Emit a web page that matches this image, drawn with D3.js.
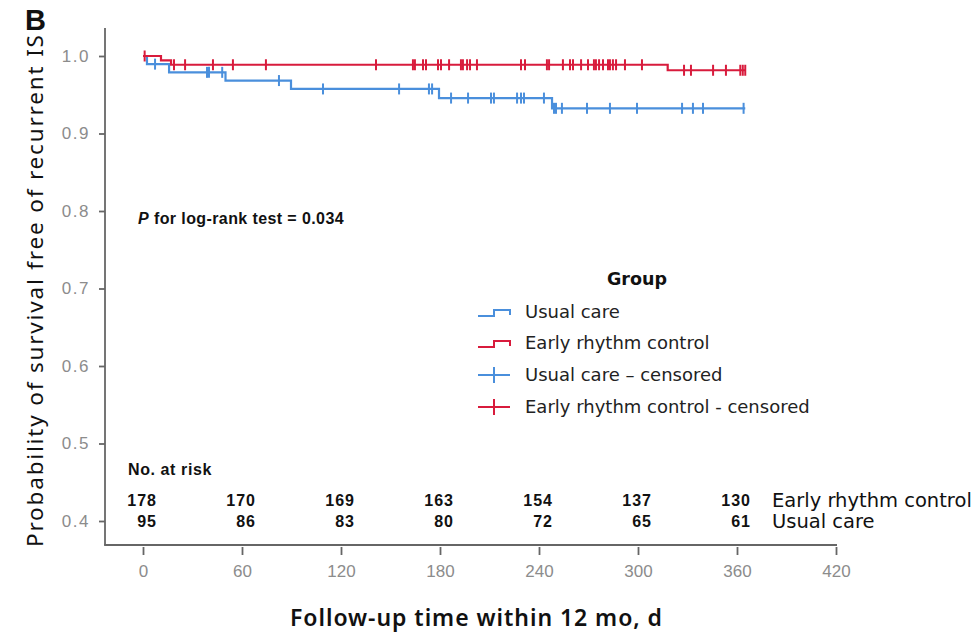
<!DOCTYPE html>
<html>
<head>
<meta charset="utf-8">
<script src="https://cdn.jsdelivr.net/npm/d3@7"></script>
<style>
  html, body { margin: 0; padding: 0; background: #fff; }
  svg { display: block; }
</style>
</head>
<body>
<svg id="chart" width="980" height="632"></svg>
<script>
// Kaplan–Meier estimates: step times (days) and survival after each step
const usualStepDays = [0, 2.4, 15.8, 50, 89.7, 179.4, 247.9];
const usualStepSurv = [1.0, 0.9895, 0.9789, 0.9683, 0.9575, 0.9457, 0.9325];
const earlyStepDays = [0, 10.9, 17, 318];
const earlyStepSurv = [1.0, 0.9944, 0.9887, 0.9816];
const followUpEnd = 365;

// Censored observations (days)
const usualCensored = [7.3, 38.8, 40, 48, 82.4, 109.1, 155.2, 173.3, 175.2, 186.7, 197,
  210.9, 212.7, 226.7, 229.1, 230.9, 243, 249.1, 250.3, 253.9, 269.1, 283, 299.4,
  326.7, 333.3, 339.4, 364];
const earlyCensored = [1, 18.8, 25.5, 42.4, 54.5, 74.5, 141.2, 163.6, 164.8, 169.7, 171.5,
  178.8, 180.6, 185.5, 192.7, 193.9, 196.4, 198.2, 202.4, 229.1, 231.5, 244.8, 246.1,
  254.5, 258.8, 260.6, 265.5, 269.7, 273.3, 274.5, 276.4, 278.8, 281.8, 283, 284.8,
  286.7, 292.1, 302.4, 327.9, 332.1, 345.5, 353.3, 362, 363.5, 365];

// Number at risk table
const riskDays = [0, 60, 120, 180, 240, 300, 360];
const riskEarly = [178, 170, 169, 163, 154, 137, 130];
const riskUsual = [95, 86, 83, 80, 72, 65, 61];

// Axis ticks
const xTicks = [0, 60, 120, 180, 240, 300, 360, 420];
const yTicks = [0.4, 0.5, 0.6, 0.7, 0.8, 0.9, 1.0];

const legendLabels = ["Usual care", "Early rhythm control",
  "Usual care \u2013 censored", "Early rhythm control - censored"];

const BLUE = "#4a8fdc";
const RED = "#d81b3c";
const AXIS = "#666";
const TICK_TEXT = "#8c8c8c";
const KFONT = "'DejaVu Sans', 'Noto Sans', sans-serif";
const TFONT = "'Noto Sans', 'Open Sans', sans-serif";
const NFONT = "'Liberation Sans Narrow', 'Arial Narrow', 'Liberation Sans', sans-serif";
const AFONT = "'Liberation Sans', Arial, sans-serif";

const svg = d3.select("#chart");

const x = d3.scaleLinear().domain([0, 420]).range([143, 836]);
const y = d3.scaleLinear().domain([0.4, 1.0]).range([521, 56]);

const frameLeft = 105, frameTop = 28, frameBottom = 545, frameRight = 837;

// Panel letter
svg.append("text")
  .attr("x", 25).attr("y", 30)
  .attr("font-family", AFONT).attr("font-weight", "bold")
  .attr("font-size", 29).attr("fill", "#111")
  .text("B");

// Frame lines
svg.append("line")
  .attr("x1", frameLeft).attr("x2", frameLeft)
  .attr("y1", frameTop).attr("y2", frameBottom)
  .attr("stroke", AXIS).attr("stroke-width", 1.8);
svg.append("line")
  .attr("x1", frameLeft - 0.9).attr("x2", frameRight)
  .attr("y1", frameBottom).attr("y2", frameBottom)
  .attr("stroke", AXIS).attr("stroke-width", 1.8);

// Y axis
const yAxis = svg.append("g")
  .attr("transform", `translate(${frameLeft},0)`)
  .call(d3.axisLeft(y).tickValues(yTicks).tickSize(6).tickPadding(9).tickFormat(d3.format(".1f")));
yAxis.select(".domain").remove();
yAxis.selectAll(".tick line").attr("stroke", AXIS).attr("stroke-width", 1.8);
yAxis.selectAll(".tick text")
  .attr("font-family", NFONT).attr("font-size", 17).attr("fill", TICK_TEXT)
  .attr("letter-spacing", 1.5);

// X axis
const xAxis = svg.append("g")
  .attr("transform", `translate(0,${frameBottom + 2})`)
  .call(d3.axisBottom(x).tickValues(xTicks).tickSize(8).tickPadding(10).tickFormat(d3.format("d")));
xAxis.select(".domain").remove();
xAxis.selectAll(".tick line").attr("stroke", AXIS).attr("stroke-width", 1.8);
xAxis.selectAll(".tick text")
  .attr("font-family", NFONT).attr("font-size", 17).attr("fill", TICK_TEXT);

// Axis titles
svg.append("text")
  .attr("transform", "translate(43,291) rotate(-90)")
  .attr("text-anchor", "middle")
  .attr("font-family", TFONT).attr("font-size", 22.5).attr("fill", "#111")
  .attr("textLength", 512).attr("lengthAdjust", "spacing")
  .text("Probability of survival free of recurrent IS");

svg.append("text")
  .attr("x", 476).attr("y", 626)
  .attr("text-anchor", "middle")
  .attr("font-family", TFONT).attr("font-weight", 600).attr("font-size", 23).attr("fill", "#111")
  .attr("textLength", 372).attr("lengthAdjust", "spacing")
  .text("Follow-up time within 12 mo, d");

// Step curves
function stepPoints(days, surv) {
  const pts = days.map((d, i) => [d, surv[i]]);
  pts.push([followUpEnd, surv[surv.length - 1]]);
  return pts;
}
function survAt(days, surv, t) {
  let s = surv[0];
  for (let i = 0; i < days.length; i++) if (days[i] <= t) s = surv[i];
  return s;
}
const stepLine = d3.line().x(d => x(d[0])).y(d => y(d[1])).curve(d3.curveStepAfter);

const groups = [
  { days: usualStepDays, surv: usualStepSurv, cens: usualCensored, color: BLUE },
  { days: earlyStepDays, surv: earlyStepSurv, cens: earlyCensored, color: RED }
];

groups.forEach(g => {
  svg.append("path")
    .datum(stepPoints(g.days, g.surv))
    .attr("d", stepLine)
    .attr("fill", "none")
    .attr("stroke", g.color)
    .attr("stroke-width", 2.2);
  svg.append("g").selectAll("line")
    .data(g.cens)
    .join("line")
    .attr("x1", d => x(d)).attr("x2", d => x(d))
    .attr("y1", d => y(survAt(g.days, g.surv, d)) - 5.5)
    .attr("y2", d => y(survAt(g.days, g.surv, d)) + 5.5)
    .attr("stroke", g.color)
    .attr("stroke-width", 2);
});

// Log-rank annotation
const pText = svg.append("text")
  .attr("x", 138).attr("y", 224)
  .attr("font-family", AFONT).attr("font-weight", "bold")
  .attr("font-size", 16).attr("letter-spacing", 0.4).attr("fill", "#111");
pText.append("tspan").attr("font-style", "italic").text("P");
pText.append("tspan").text(" for log-rank test = 0.034");

// Legend
const lg = svg.append("g");
lg.append("text")
  .attr("x", 637).attr("y", 285)
  .attr("text-anchor", "middle")
  .attr("font-family", KFONT).attr("font-weight", "bold")
  .attr("font-size", 17.5).attr("fill", "#111")
  .text("Group");

const legendColors = [BLUE, RED, BLUE, RED];
const legendY = [312, 343, 375, 407];
legendLabels.forEach((lab, i) => {
  const cy = legendY[i];
  if (i < 2) {
    lg.append("path")
      .attr("d", `M478,${cy + 4}H494V${cy - 2}H510V${cy + 3}`)
      .attr("fill", "none").attr("stroke", legendColors[i]).attr("stroke-width", 2);
  } else {
    lg.append("line")
      .attr("x1", 478).attr("x2", 510).attr("y1", cy).attr("y2", cy)
      .attr("stroke", legendColors[i]).attr("stroke-width", 2);
    lg.append("line")
      .attr("x1", 494).attr("x2", 494).attr("y1", cy - 8).attr("y2", cy + 8)
      .attr("stroke", legendColors[i]).attr("stroke-width", 2);
  }
  lg.append("text")
    .attr("x", 525).attr("y", cy + 6)
    .attr("font-family", KFONT).attr("font-size", 18).attr("fill", "#222")
    .text(lab);
});

// Number at risk
svg.append("text")
  .attr("x", 128).attr("y", 475)
  .attr("font-family", AFONT).attr("font-weight", "bold")
  .attr("font-size", 16).attr("letter-spacing", 0.6).attr("fill", "#111")
  .text("No. at risk");

const riskRows = [
  { values: riskEarly, label: "Early rhythm control", yy: 506 },
  { values: riskUsual, label: "Usual care", yy: 527 }
];
riskRows.forEach(r => {
  svg.append("g").selectAll("text")
    .data(riskDays)
    .join("text")
    .attr("x", d => x(d) + 14)
    .attr("y", r.yy)
    .attr("text-anchor", "end")
    .attr("font-family", AFONT).attr("font-weight", "bold")
    .attr("font-size", 16).attr("letter-spacing", 1).attr("fill", "#111")
    .text((d, i) => r.values[i]);
  svg.append("text")
    .attr("x", 772).attr("y", r.yy + 1)
    .attr("font-family", KFONT).attr("font-size", 19.5).attr("fill", "#111")
    .text(r.label);
});
</script>
</body>
</html>
